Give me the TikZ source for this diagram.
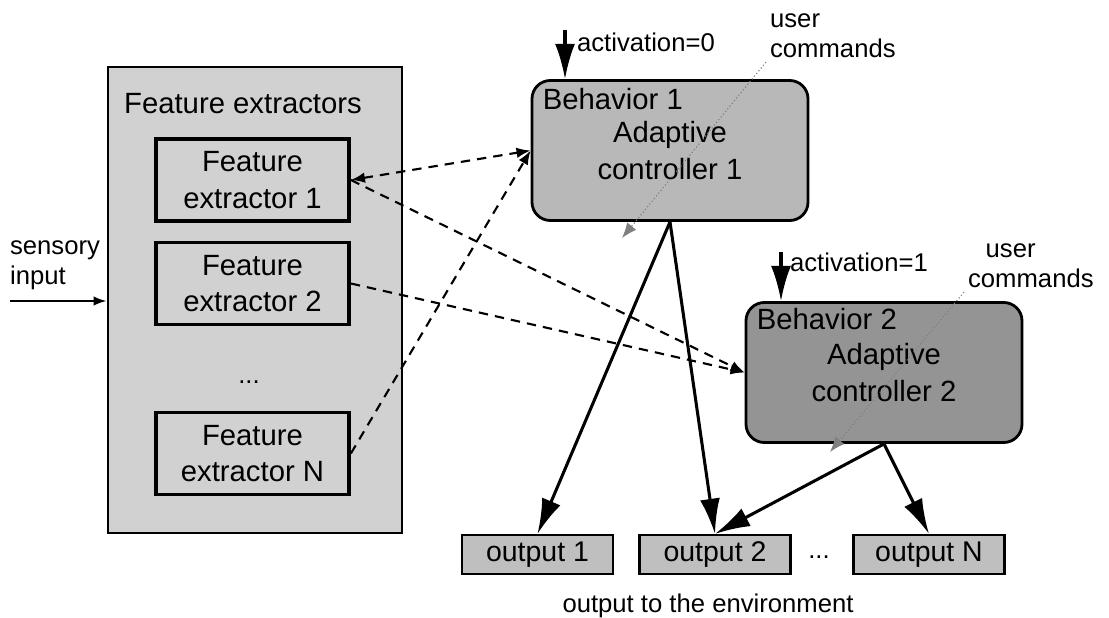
\documentclass[tikz,border=0pt]{standalone}
\usepackage{fontspec}
\setmainfont{Liberation Sans}
\usetikzlibrary{arrows.meta}

\begin{document}
\begin{tikzpicture}[x=0.03cm, y=-0.03cm,
    bigfont/.style={font=\fontsize{25}{31}\selectfont},
    smallfont/.style={font=\fontsize{21.9}{25.5}\selectfont},
    fexbox/.style={draw, line width=3.2pt, minimum width=5.79cm, minimum height=2.46cm, align=center, bigfont, inner sep=0pt},
    behbox/.style={draw, line width=2.4pt, rounded corners=0.55cm, minimum width=8.28cm, minimum height=4.2cm, align=center, bigfont},
    outbox/.style={draw, line width=1.9pt, fill=black!25, minimum width=4.53cm, minimum height=1.17cm, inner sep=0pt, font=\fontsize{24.3}{28}\selectfont},
    bigarrow/.style={>={Latex[length=30pt, width=17pt]}, ->, line width=2.6pt},
    dasharrow/.style={>={Latex[length=12pt, width=9pt]}, ->, line width=1.8pt, dash pattern=on 8pt off 6pt},
    fbarrow/.style={>={Latex[length=13pt, width=10pt]}, ->, black!50, line width=1pt, dotted}]

    \useasboundingbox (0,0) rectangle (1109,618);

    \node[draw, line width=2.5pt, fill=black!18, minimum width=8.82cm, minimum height=13.98cm] (fex) at (255,300) {};
    \node[bigfont, anchor=west] (fextitle) at (120,104) {Feature extractors};
    \node[fexbox] (fe1) at (252.5,180) {Feature\\extractor 1};
    \node[fexbox] (fe2) at (252.5,283.5) {Feature\\extractor 2};
    \node[smallfont] (fedots) at (249,382) {...};
    \node[fexbox] (feN) at (252.5,453.5) {Feature\\extractor N};

    \node[smallfont, align=left, anchor=west] (sens) at (6,265) {sensory\\input};
    \coordinate (sin) at (10,301);
    \draw[>={Latex[length=11pt, width=8pt]}, ->, line width=1.6pt] (sin) -- (sin -| fex.west);

    \node[behbox, fill=black!28] (beh1) at (670,150.5) {Adaptive\\controller 1};
    \node[bigfont, anchor=north west, inner sep=0pt] (beh1lbl) at ([shift={(12,9)}]beh1.north west) {Behavior 1};
    \node[behbox, fill=black!42] (beh2) at (884,372.5) {Adaptive\\controller 2};
    \node[bigfont, anchor=north west, inner sep=0pt] (beh2lbl) at ([shift={(12,7)}]beh2.north west) {Behavior 2};

    \node[smallfont, anchor=west] (act0) at (573,42) {activation=0};
    \coordinate (a0) at (565,30);
    \draw[bigarrow] (a0) -- (a0 |- beh1.north);
    \node[smallfont, anchor=west] (act1) at (786,262) {activation=1};
    \coordinate (a1) at (781,252);
    \draw[bigarrow] (a1) -- (a1 |- beh2.north);

    \node[smallfont, align=left, anchor=west] (uc1) at (766,36) {user\\commands};
    \node[smallfont, align=left, anchor=west] (uc2) at (964,266) {\hspace*{15pt}user\\commands};
    \coordinate (fb1) at (622,238);
    \coordinate (fb2) at (830,452);
    \draw[fbarrow] (uc1.south west) -- (fb1);
    \draw[fbarrow] (uc2.south west) -- (fb2);

    \node[outbox] (out1) at (537.5,554.5) {output 1};
    \node[outbox] (out2) at (715,554.5) {output 2};
    \node[smallfont] (outdots) at (819,557) {...};
    \node[outbox] (outN) at (929,554.5) {output N};
    \node[smallfont] (env) at (708,606) {output to the environment};

    \draw[dasharrow, <->] (fe1.east) -- (beh1.west);
    \draw[dasharrow] (feN.east) -- (beh1.west);
    \draw[dasharrow] (fe1.east) -- (beh2.west);
    \draw[dasharrow] (fe2.east) -- (beh2.west);

    \draw[bigarrow] (beh1.south) -- (out1.north);
    \draw[bigarrow] (beh1.south) -- (out2.north);
    \draw[bigarrow] (beh2.south) -- (out2.north);
    \draw[bigarrow] (beh2.south) -- (outN.north);
\end{tikzpicture}
\end{document}
